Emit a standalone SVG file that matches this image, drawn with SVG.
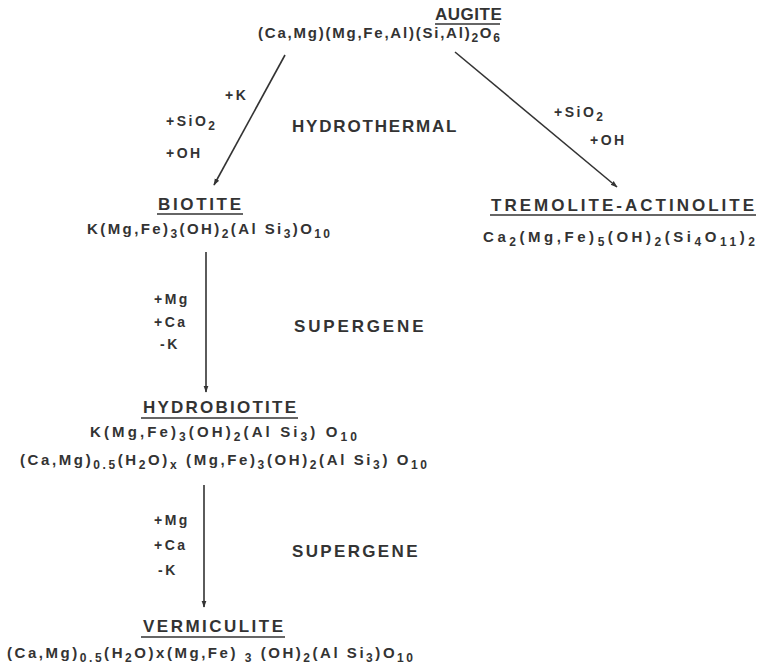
<svg xmlns="http://www.w3.org/2000/svg" width="766" height="670" viewBox="0 0 766 670">
<defs>
<marker id="ah" viewBox="0 0 10 10" refX="9" refY="5" markerWidth="7" markerHeight="7" orient="auto" markerUnits="userSpaceOnUse">
<path d="M0,1.5 L10,5 L0,8.5 z" fill="#333"/>
</marker>
<style>
text{font-family:"Liberation Sans",Arial,sans-serif;font-weight:bold;fill:#333}
.t{font-size:17px;letter-spacing:1px}
.f{font-size:15px}
.l{font-size:14px;letter-spacing:2.5px}
.p{font-size:17px;letter-spacing:1.5px}
.u{stroke:#333;stroke-width:1.6}
.c{stroke:#333;stroke-width:1.6;fill:none;marker-end:url(#ah)}
.s{font-size:12px}
</style>
</defs>
<rect width="766" height="670" fill="#fff"/>
<g id="connectors">
<line class="c" x1="285" y1="55" x2="214" y2="185"/>
<line class="c" x1="455" y1="52" x2="617" y2="187"/>
<line class="c" x1="206" y1="252" x2="206" y2="392"/>
<line class="c" x1="204" y1="485" x2="204" y2="607"/>
</g>
<g id="labels">
<text class="l" x="225" y="100">+K</text>
<text class="l" x="166" y="126">+SiO<tspan class="s" dy="4">2</tspan></text>
<text class="l" x="166" y="158">+OH</text>
<text class="p" x="292" y="132" textLength="166">HYDROTHERMAL</text>
<text class="l" x="554" y="117">+SiO<tspan class="s" dy="4">2</tspan></text>
<text class="l" x="590" y="145">+OH</text>
<text class="l" x="154" y="304">+Mg</text>
<text class="l" x="154" y="327">+Ca</text>
<text class="l" x="160" y="349">-K</text>
<text class="p" x="294" y="332" textLength="131">SUPERGENE</text>
<text class="l" x="154" y="525">+Mg</text>
<text class="l" x="154" y="550">+Ca</text>
<text class="l" x="158" y="575">-K</text>
<text class="p" x="292" y="557" textLength="127">SUPERGENE</text>
</g>
<g id="augite">
<text class="t" x="435" y="20" style="letter-spacing:0.5px">AUGITE</text>
<line class="u" x1="435" y1="24" x2="500" y2="24"/>
<text class="f" x="258" y="38" textLength="242">(Ca,Mg)(Mg,Fe,Al)(Si,Al)<tspan class="s" dy="4">2</tspan><tspan dy="-4">O</tspan><tspan class="s" dy="4">6</tspan></text>
</g>
<g id="biotite">
<text class="t" x="158" y="210" textLength="84">BIOTITE</text>
<line class="u" x1="157" y1="214" x2="243" y2="214"/>
<text class="f" x="87" y="234" textLength="243">K(Mg,Fe)<tspan class="s" dy="4">3</tspan><tspan dy="-4">(OH)</tspan><tspan class="s" dy="4">2</tspan><tspan dy="-4">(Al Si</tspan><tspan class="s" dy="4">3</tspan><tspan dy="-4">)O</tspan><tspan class="s" dy="4">10</tspan></text>
</g>
<g id="tremolite">
<text class="t" x="491" y="211" textLength="264">TREMOLITE-ACTINOLITE</text>
<line class="u" x1="490" y1="215" x2="756" y2="215"/>
<text class="f" x="483" y="242" textLength="272">Ca<tspan class="s" dy="4">2</tspan><tspan dy="-4">(Mg,Fe)</tspan><tspan class="s" dy="4">5</tspan><tspan dy="-4">(OH)</tspan><tspan class="s" dy="4">2</tspan><tspan dy="-4">(Si</tspan><tspan class="s" dy="4">4</tspan><tspan dy="-4">O</tspan><tspan class="s" dy="4">11</tspan><tspan dy="-4">)</tspan><tspan class="s" dy="4">2</tspan></text>
</g>
<g id="hydrobiotite">
<text class="t" x="143" y="413" textLength="154">HYDROBIOTITE</text>
<line class="u" x1="141" y1="418" x2="298" y2="418"/>
<text class="f" x="90" y="437" textLength="267">K(Mg,Fe)<tspan class="s" dy="4">3</tspan><tspan dy="-4">(OH)</tspan><tspan class="s" dy="4">2</tspan><tspan dy="-4">(Al Si</tspan><tspan class="s" dy="4">3</tspan><tspan dy="-4">) O</tspan><tspan class="s" dy="4">10</tspan></text>
<text class="f" x="20" y="465" textLength="407">(Ca,Mg)<tspan class="s" dy="4">0.5</tspan><tspan dy="-4">(H</tspan><tspan class="s" dy="4">2</tspan><tspan dy="-4">O)</tspan><tspan class="s" dy="4">x</tspan><tspan dy="-4"> (Mg,Fe)</tspan><tspan class="s" dy="4">3</tspan><tspan dy="-4">(OH)</tspan><tspan class="s" dy="4">2</tspan><tspan dy="-4">(Al Si</tspan><tspan class="s" dy="4">3</tspan><tspan dy="-4">) O</tspan><tspan class="s" dy="4">10</tspan></text>
</g>
<g id="vermiculite">
<text class="t" x="143" y="632" textLength="141">VERMICULITE</text>
<line class="u" x1="141" y1="637" x2="285" y2="637"/>
<text class="f" x="7" y="658" textLength="406">(Ca,Mg)<tspan class="s" dy="4">0.5</tspan><tspan dy="-4">(H</tspan><tspan class="s" dy="4">2</tspan><tspan dy="-4">O)x(Mg,Fe) </tspan><tspan class="s" dy="4">3</tspan><tspan dy="-4"> (OH)</tspan><tspan class="s" dy="4">2</tspan><tspan dy="-4">(Al Si</tspan><tspan class="s" dy="4">3</tspan><tspan dy="-4">)O</tspan><tspan class="s" dy="4">10</tspan></text>
</g>
</svg>
